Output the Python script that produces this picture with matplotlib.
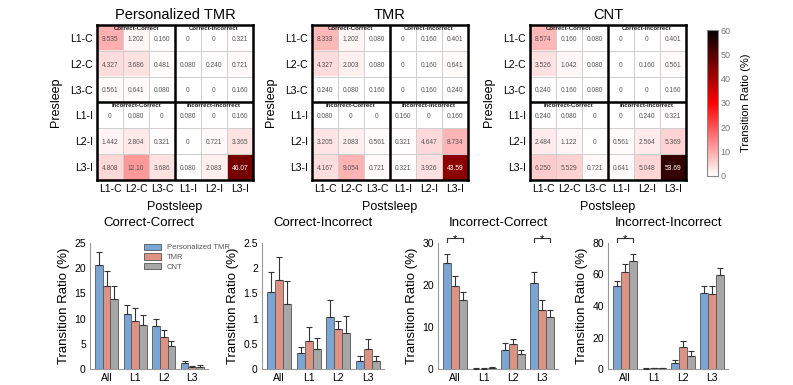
import numpy as np
import matplotlib.pyplot as plt
from matplotlib.colors import LinearSegmentedColormap

plt.rcParams['font.family'] = ['Liberation Sans', 'DejaVu Sans']

# ---------------- data ----------------
states = ['L1-C', 'L2-C', 'L3-C', 'L1-I', 'L2-I', 'L3-I']
conditions = ['Personalized TMR', 'TMR', 'CNT']

# transition ratio (%) presleep (rows) -> postsleep (cols)
ptmr_matrix = [
    [9.535, 1.202, 0.160, 0, 0, 0.321],
    [4.327, 3.686, 0.481, 0.080, 0.240, 0.721],
    [0.561, 0.641, 0.080, 0, 0, 0.160],
    [0, 0.080, 0, 0.080, 0, 0.160],
    [1.442, 2.804, 0.321, 0, 0.721, 3.365],
    [4.808, 12.10, 3.686, 0.080, 2.083, 46.07],
]
tmr_matrix = [
    [8.333, 1.202, 0.080, 0, 0.160, 0.401],
    [4.327, 2.003, 0.080, 0, 0.160, 0.641],
    [0.240, 0.080, 0.160, 0, 0.160, 0.240],
    [0.080, 0, 0, 0.160, 0, 0.160],
    [3.205, 2.083, 0.561, 0.321, 4.647, 8.734],
    [4.167, 9.054, 0.721, 0.321, 3.926, 43.59],
]
cnt_matrix = [
    [8.574, 0.160, 0.080, 0, 0, 0.401],
    [3.526, 1.042, 0.080, 0, 0.160, 0.561],
    [0.240, 0.160, 0.080, 0, 0, 0.160],
    [0.240, 0.080, 0, 0, 0.240, 0.321],
    [2.484, 1.122, 0, 0.561, 2.564, 5.369],
    [6.250, 5.529, 0.721, 0.641, 5.048, 53.69],
]
quadrant_names = ['Correct-Correct', 'Correct-Incorrect', 'Incorrect-Correct', 'Incorrect-Incorrect']

groups = ['All', 'L1', 'L2', 'L3']

# bar means (rows: Personalized TMR, TMR, CNT) and s.e.m.
cc_mean = [[20.67, 10.90, 8.49, 1.28], [16.51, 9.62, 6.41, 0.48], [13.94, 8.81, 4.65, 0.48]]
cc_sem = [[2.5, 1.8, 1.35, 0.35], [2.9, 2.5, 1.3, 0.2], [2.5, 1.95, 1.0, 0.3]]
ci_mean = [[1.52, 0.32, 1.04, 0.16], [1.76, 0.56, 0.80, 0.40], [1.28, 0.40, 0.72, 0.16]]
ci_sem = [[0.40, 0.12, 0.32, 0.10], [0.46, 0.27, 0.15, 0.19], [0.46, 0.21, 0.33, 0.10]]
ic_mean = [[25.24, 0.08, 4.57, 20.59], [19.87, 0.08, 5.85, 13.94], [16.43, 0.32, 3.61, 12.50]]
ic_sem = [[2.2, 0.05, 1.7, 2.5], [2.2, 0.05, 1.3, 2.6], [2.0, 0.12, 0.9, 1.6]]
ii_mean = [[52.56, 0.24, 4.09, 48.23], [61.86, 0.32, 13.70, 47.84], [68.43, 0.56, 8.49, 59.38]]
ii_sem = [[3.5, 0.12, 1.4, 4.3], [5.0, 0.15, 4.2, 4.6], [4.6, 0.2, 2.7, 4.8]]

ylims = [25, 2.5, 30, 80]
ytick_steps = [5, 0.5, 10, 20]
# significance brackets: group index and bracket height
ic_sig = [(0, 31.2), (3, 31.2)]
ii_sig = [(0, 83.2)]

bar_colors = ['#7ba6d3', '#dc9384', '#a7a7a7']

# ---------------- figure ----------------
fig = plt.figure(figsize=(7.93, 3.85), dpi=100)
W, H = 793.0, 385.0

cmap = LinearSegmentedColormap.from_list('wrk', [(0, '#ffffff'), (0.5, '#ff0000'), (1, '#000000')])

heat_lefts = [97, 312, 530]
matrices = [ptmr_matrix, tmr_matrix, cnt_matrix]
for left, mat, name in zip(heat_lefts, matrices, conditions):
    ax = fig.add_axes([left / W, 1 - 180 / H, 156 / W, 155 / H])
    M = np.array(mat, dtype=float)
    im = ax.imshow(M, cmap=cmap, vmin=0, vmax=60, aspect='auto')
    for k in range(1, 6):
        if k == 3:
            continue
        ax.axhline(k - 0.5, color='#cfcfcf', lw=0.7)
        ax.axvline(k - 0.5, color='#cfcfcf', lw=0.7)
    ax.axhline(2.5, color='black', lw=1.8)
    ax.axvline(2.5, color='black', lw=1.8)
    for sp in ax.spines.values():
        sp.set_linewidth(1.8)
    for i in range(6):
        for j in range(6):
            v = M[i, j]
            if v == 0:
                s = '0'
            elif v >= 10:
                s = f'{v:.2f}'
            else:
                s = f'{v:.3f}'
            ax.text(j, i + 0.05, s, ha='center', va='center', fontsize=4.8,
                    color='white' if v > 30 else '#555555')
    for q, (qi, qj) in enumerate([(0, 0), (0, 3), (3, 0), (3, 3)]):
        ax.text(qj + 1, qi - 0.47, quadrant_names[q], ha='center', va='top',
                fontsize=4.3, fontweight='bold', color='#222222')
    ax.set_xticks(range(6))
    ax.set_xticklabels(states, fontsize=7.5)
    ax.set_yticks(range(6))
    ax.set_yticklabels(states, fontsize=7.5)
    ax.tick_params(length=0, pad=3)
    ax.set_title(name, fontsize=10.5, pad=4)
    ax.set_xlabel('Postsleep', fontsize=9, labelpad=5)
    ax.set_ylabel('Presleep', fontsize=9, labelpad=6)

cax = fig.add_axes([707 / W, 1 - 176 / H, 11 / W, 146 / H])
cb = fig.colorbar(im, cax=cax, ticks=range(0, 61, 10))
cb.outline.set_edgecolor('#888888')
cb.outline.set_linewidth(0.8)
cax.tick_params(labelsize=6.5, labelcolor='#777777', length=0, pad=2)
cb.set_label('Transition Ratio (%)', fontsize=8, labelpad=7)

# ---------------- bar charts ----------------
bar_lefts = [90, 262, 438, 608]
bar_width_px = [118, 122, 120, 120]
means = [cc_mean, ci_mean, ic_mean, ii_mean]
sems = [cc_sem, ci_sem, ic_sem, ii_sem]
sigs = [[], [], ic_sig, ii_sig]
x = np.arange(len(groups))
bw = 0.27

for p in range(4):
    ax = fig.add_axes([bar_lefts[p] / W, 1 - 369 / H, bar_width_px[p] / W, 126 / H])
    for c in range(3):
        xs = x + (c - 1) * bw
        ax.bar(xs, means[p][c], bw, color=bar_colors[c], edgecolor='#555555',
               linewidth=0.6, label=conditions[c], zorder=2)
        ax.errorbar(xs, means[p][c], yerr=[np.zeros(4), sems[p][c]], fmt='none',
                    ecolor='#333333', elinewidth=0.8, capsize=2.2, capthick=0.8, zorder=3)
    for g, h in sigs[p]:
        d = ylims[p] * 0.03
        x0, x1 = g - bw, g + bw
        ax.plot([x0, x0, x1, x1], [h - d, h, h, h - d], color='#333333', lw=0.8, clip_on=False)
        ax.annotate('*', xy=(g, h), xytext=(0, -3.2), textcoords='offset points',
                    ha='center', va='baseline', fontsize=8, annotation_clip=False)
    ax.set_xlim(-0.58, 3.55)
    ax.set_ylim(0, ylims[p])
    ax.set_yticks(np.arange(0, ylims[p] + 1e-9, ytick_steps[p]))
    ax.yaxis.set_major_formatter(plt.FuncFormatter(lambda v, _: f'{v:g}'))
    ax.set_xticks(x)
    ax.set_xticklabels(groups)
    ax.tick_params(labelsize=7.5, length=0, pad=3)
    for sp in ['top', 'right']:
        ax.spines[sp].set_visible(False)
    for sp in ['left', 'bottom']:
        ax.spines[sp].set_color('#999999')
        ax.spines[sp].set_linewidth(0.8)
    ax.set_title(quadrant_names[p], fontsize=9.5, pad=12.5)
    ax.set_ylabel('Transition Ratio (%)', fontsize=9.5, labelpad=3)
    if p == 0:
        ax.legend(loc='upper left', bbox_to_anchor=(0.4, 1.05), fontsize=5.5, frameon=False,
                  handlelength=2.2, handleheight=0.9, labelspacing=0.25,
                  labelcolor='#555555')

plt.savefig('out.png', dpi=100)
